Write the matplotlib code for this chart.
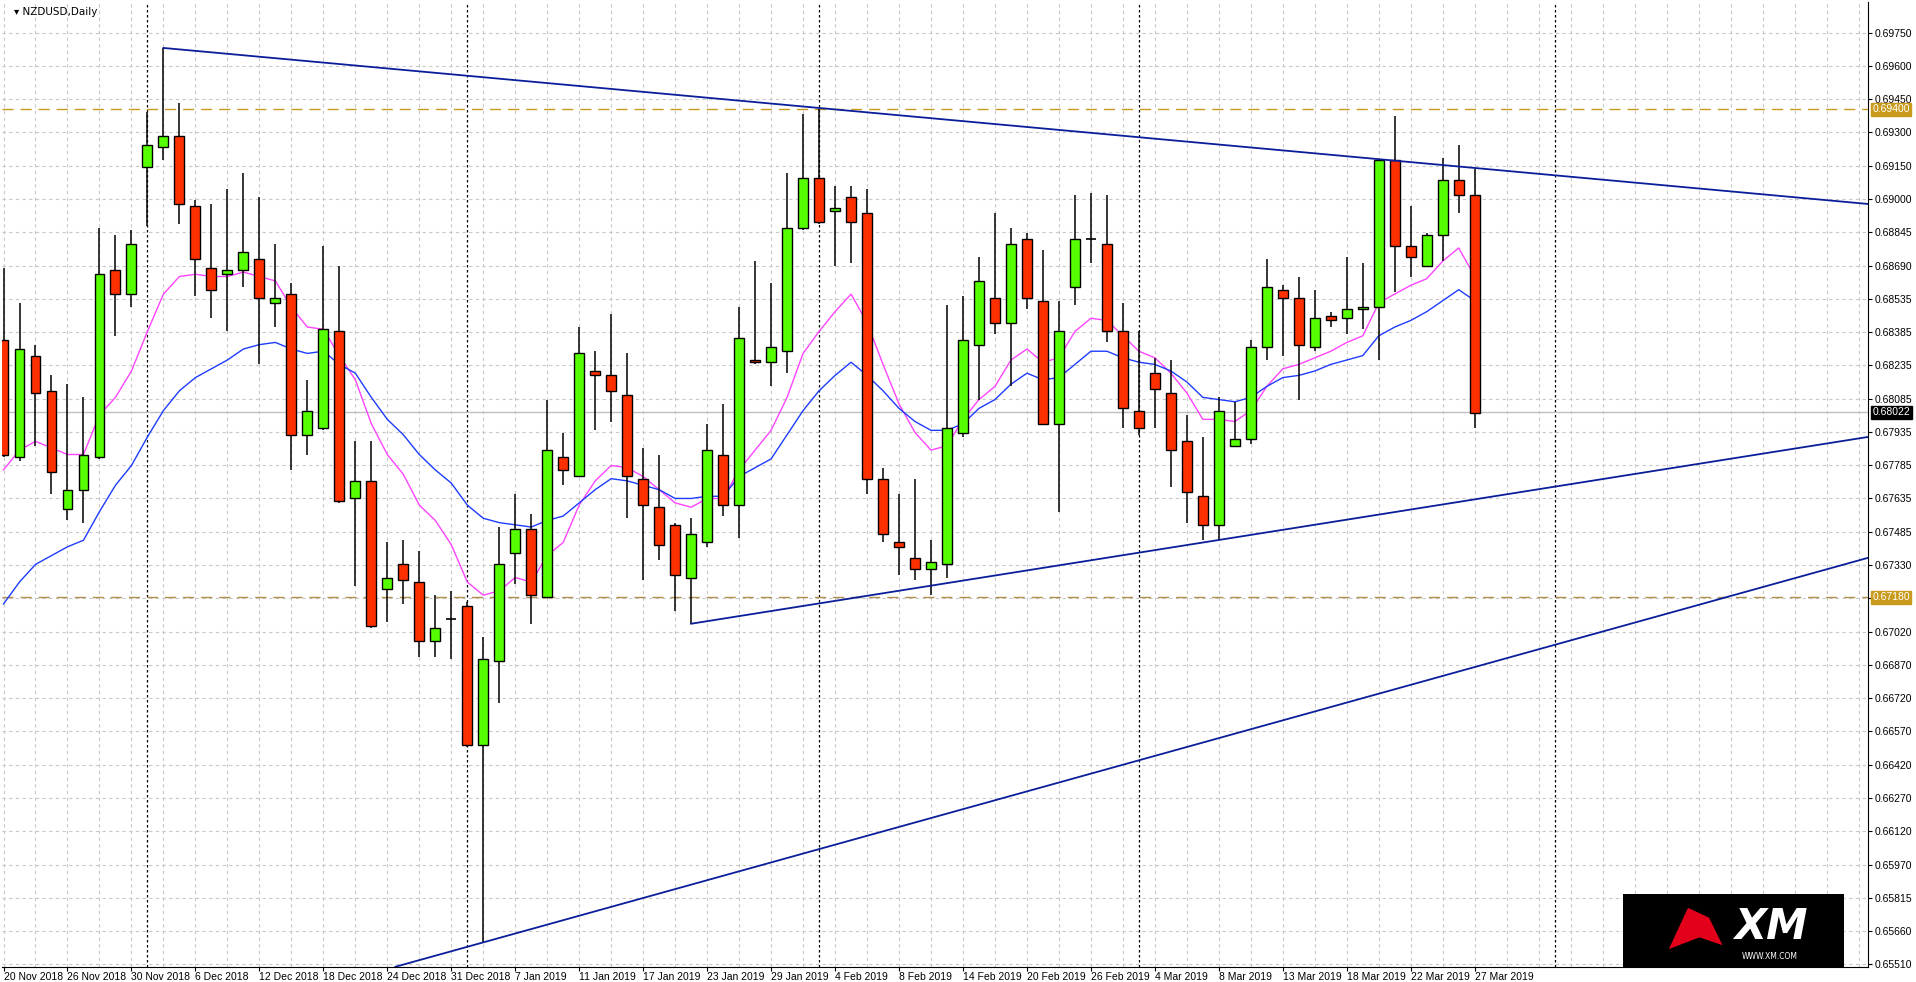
import numpy as np
import matplotlib
matplotlib.use('Agg')
from matplotlib import pyplot as plt
import matplotlib.patches as patches

# ---DATA--- NZDUSD daily, 20 Nov 2018 .. 27 Mar 2019 (bar index 0..92)
opens = [.6835, .6782, .6828, .6812, .6758, .6767, .6782, .6867, .6856, .6914,
         .6923, .6928, .6896, .6868, .6865, .6867, .6872, .6852, .6856, .6792,
         .6795, .6839, .6763, .6771, .6722, .6733, .6725, .6698, .6708, .6714,
         .6651, .6689, .6738, .6749, .6718, .6782, .6773, .6821, .6819, .6810,
         .6772, .6759, .6751, .6727, .6743, .6783, .6760, .6826, .6825, .6830,
         .6886, .6909, .6894, .6900, .6893, .6772, .6743, .6736, .6731, .6733,
         .6793, .6833, .6854, .6843, .6881, .6853, .6797, .6859, .6881, .6879,
         .6839, .6803, .6820, .6811, .6789, .6764, .6751, .6787, .6790, .6832,
         .6858, .6854, .6832, .6846, .6845, .6849, .6850, .6917, .6878, .6869,
         .6883, .6908, .6901]
highs = [.6868, .6852, .6833, .6819, .6815, .6809, .6886, .6883, .6885, .6939,
         .6968, .6943, .6899, .6897, .6904, .6911, .6900, .6879, .6861, .6817,
         .6878, .6869, .6789, .6789, .6743, .6744, .6739, .6719, .6721, .6716,
         .6700, .6750, .6765, .6756, .6808, .6793, .6841, .6830, .6847, .6829,
         .6786, .6783, .6752, .6754, .6797, .6806, .6850, .6871, .6861, .6911,
         .6938, .6940, .6905, .6905, .6904, .6777, .6765, .6772, .6744, .6851,
         .6855, .6873, .6893, .6886, .6884, .6876, .6853, .6901, .6902, .6901,
         .6852, .6839, .6827, .6826, .6801, .6791, .6809, .6807, .6835, .6872,
         .6860, .6864, .6858, .6848, .6873, .6870, .6917, .6937, .6896, .6884,
         .6918, .6924, .6913]
lows = [.6782, .6780, .6787, .6765, .6753, .6752, .6781, .6837, .6850, .6887,
        .6917, .6888, .6855, .6845, .6839, .6859, .6824, .6841, .6776, .6783,
        .6794, .6761, .6723, .6704, .6707, .6715, .6691, .6691, .6690, .6650,
        .6561, .6670, .6724, .6706, .6718, .6769, .6773, .6794, .6798, .6754,
        .6726, .6735, .6712, .6706, .6741, .6755, .6745, .6824, .6814, .6820,
        .6885, .6888, .6869, .6870, .6765, .6743, .6728, .6726, .6719, .6727,
        .6791, .6808, .6838, .6814, .6849, .6797, .6757, .6851, .6870, .6834,
        .6795, .6792, .6795, .6768, .6752, .6744, .6744, .6787, .6788, .6826,
        .6828, .6808, .6830, .6841, .6838, .6840, .6826, .6857, .6864, .6869,
        .6871, .6893, .6795]
closes = [.6783, .6831, .6811, .6775, .6767, .6783, .6865, .6856, .6879, .6924,
          .6928, .6897, .6872, .6858, .6867, .6875, .6854, .6854, .6792, .6803,
          .6840, .6762, .6771, .6705, .6727, .6726, .6698, .6704, .6708, .6651,
          .6690, .6733, .6749, .6719, .6785, .6776, .6829, .6819, .6812, .6773,
          .6760, .6742, .6728, .6747, .6785, .6760, .6836, .6825, .6832, .6886,
          .6909, .6889, .6895, .6889, .6772, .6747, .6741, .6731, .6734, .6795,
          .6835, .6862, .6843, .6879, .6854, .6797, .6839, .6881, .6881, .6839,
          .6804, .6795, .6813, .6785, .6766, .6751, .6803, .6790, .6832, .6859,
          .6854, .6833, .6845, .6844, .6849, .6850, .6917, .6878, .6873, .6883,
          .6908, .6901, .6802]

# moving averages
ma_fast = [.6776, .6785, .6789, .6786, .6783, .6783, .6801, .6809, .6821, .6839,
           .6856, .6864, .6865, .6864, .6864, .6866, .6864, .6862, .6850, .6841,
           .6840, .6828, .6817, .6797, .6783, .6774, .6760, .6753, .6742, .6725,
           .6719, .6721, .6727, .6725, .6737, .6743, .6760, .6771, .6778, .6777,
           .6773, .6767, .6761, .6759, .6763, .6763, .6776, .6785, .6794, .6809,
           .6829, .6839, .6848, .6856, .6843, .6824, .6806, .6793, .6785, .6787,
           .6799, .6808, .6814, .6826, .6831, .6825, .6827, .6839, .6845, .6844,
           .6837, .6830, .6827, .6820, .6811, .6799, .6799, .6798, .6803, .6814,
           .6822, .6824, .6827, .6830, .6834, .6837, .6852, .6856, .6860, .6863,
           .6871, .6877, .6864]
ma_slow = [.6715, .6725, .6733, .6737, .6741, .6744, .6757, .6769, .6778, .6791,
           .6803, .6812, .6818, .6822, .6826, .6831, .6833, .6834, .6831, .6829,
           .6830, .6824, .6820, .6809, .6799, .6792, .6783, .6776, .6770, .6760,
           .6754, .6752, .6751, .6750, .6753, .6755, .6761, .6767, .6772, .6771,
           .6769, .6767, .6763, .6763, .6764, .6764, .6773, .6777, .6781, .6792,
           .6803, .6812, .6819, .6825, .6819, .6812, .6804, .6798, .6794, .6794,
           .6797, .6804, .6808, .6815, .6820, .6817, .6818, .6824, .6830, .6830,
           .6827, .6825, .6824, .6821, .6816, .6809, .6808, .6807, .6809, .6814,
           .6818, .6819, .6821, .6824, .6826, .6828, .6837, .6841, .6844, .6848,
           .6853, .6858, .6853]

date_labels = ['20 Nov 2018', '26 Nov 2018', '30 Nov 2018', '6 Dec 2018', '12 Dec 2018',
               '18 Dec 2018', '24 Dec 2018', '31 Dec 2018', '7 Jan 2019', '11 Jan 2019',
               '17 Jan 2019', '23 Jan 2019', '29 Jan 2019', '4 Feb 2019', '8 Feb 2019',
               '14 Feb 2019', '20 Feb 2019', '26 Feb 2019', '4 Mar 2019', '8 Mar 2019',
               '13 Mar 2019', '18 Mar 2019', '22 Mar 2019', '27 Mar 2019']
price_labels = ['0.69750', '0.69600', '0.69450', '0.69300', '0.69150', '0.69000', '0.68845',
                '0.68690', '0.68535', '0.68385', '0.68235', '0.68085', '0.67935', '0.67785',
                '0.67635', '0.67485', '0.67330', '0.67180', '0.67020', '0.66870', '0.66720',
                '0.66570', '0.66420', '0.66270', '0.66120', '0.65970', '0.65815', '0.65660',
                '0.65510']
month_sep = [9, 29, 51, 71, 97]
level_hi, level_lo, last_price = 0.6940, 0.6718, 0.68022
# trendlines (bar, price)
tl_upper = [(10, 0.6968), (116.6, 0.6897)]
tl_mid = [(43, 0.6706), (116.6, 0.6791)]
tl_low = [(30, 0.6561), (116.6, 0.6736)]

# ---PLOT---
BULL, BEAR = '#55FF00', '#FF3000'
GOLD = '#C89B1E'
FONT = ['Liberation Sans', 'DejaVu Sans']
FS = 7.5
fig = plt.figure(figsize=(19.16, 9.82), dpi=100)
ax = fig.add_axes([0.001, 0.0155, 0.974, 0.982])
ax.set_xlim(-0.1, 116.6)
ax.set_ylim(0.65499, 0.69887)

# grid
grid_y = 0.6975 - np.arange(len(price_labels)) * 0.0424 / 28
for gy in grid_y:
    ax.axhline(gy, color='#C8C8C8', lw=0.8, ls=(0, (3, 3)), zorder=0)
for gx in range(0, 117, 2):
    ax.axvline(gx, color='#C8C8C8', lw=0.8, ls=(0, (3, 3)), zorder=0)
for mx in month_sep:
    ax.axvline(mx, color='black', lw=0.9, ls=(0, (2, 2)), zorder=1)

ax.axhline(level_hi, color=GOLD, lw=1.0, ls=(0, (8, 5)), zorder=1)
ax.axhline(level_lo, color='#B09050', lw=1.0, ls=(0, (8, 5)), zorder=1)
ax.axhline(last_price, color='#C0C0C0', lw=1.0, zorder=1)

x = np.arange(len(opens))
o, h, l, c = map(np.array, (opens, highs, lows, closes))
ax.vlines(x, l, h, color='black', lw=1.1, zorder=3)
bull = c > o
bear = c < o
doji = c == o
w = 0.62
ax.bar(x[bull], (c - o)[bull], bottom=o[bull], width=w, color=BULL,
       edgecolor='black', lw=1.0, zorder=4)
ax.bar(x[bear], (o - c)[bear], bottom=c[bear], width=w, color=BEAR,
       edgecolor='black', lw=1.0, zorder=4)
ax.hlines(o[doji], x[doji] - w / 2, x[doji] + w / 2, color='black', lw=1.2, zorder=4)

ax.plot(x, ma_fast, color='#FF44FF', lw=1.0, zorder=2)
ax.plot(x, ma_slow, color='#1E3CFF', lw=1.0, zorder=2)

tl_col = '#0A1E9A'
ax.plot(*zip(*tl_upper), color=tl_col, lw=1.3, zorder=5)
ax.plot(*zip(*tl_mid), color=tl_col, lw=1.3, zorder=5)
ax.axline(tl_low[0], tl_low[1], color=tl_col, lw=1.3, zorder=5)

# axes styling
for s in ['top', 'left']:
    ax.spines[s].set_visible(False)
ax.spines['right'].set_color('black')
ax.spines['bottom'].set_color('black')
ax.yaxis.tick_right()
ax.set_yticks(grid_y)
ax.set_yticklabels(price_labels, family=FONT)
ax.tick_params(axis='y', length=3, width=0.8, labelsize=FS, pad=2)
ax.set_xticks(np.arange(len(date_labels)) * 4)
ax.set_xticklabels(date_labels, family=FONT)
ax.tick_params(axis='x', length=3, width=0.8, labelsize=FS, pad=1)
for lab in ax.get_xticklabels():
    lab.set_horizontalalignment('left')

# price boxes on the right scale
def price_box(p, txt, bg):
    ax.annotate(txt, xy=(1.0, p), xycoords=('axes fraction', 'data'),
                xytext=(3, 0), textcoords='offset points', va='center', ha='left',
                fontsize=FS, color='white', family=FONT,
                bbox=dict(boxstyle='square,pad=0.15', fc=bg, ec=bg), zorder=10,
                annotation_clip=False)

price_box(level_hi, '0.69400', GOLD)
price_box(level_lo, '0.67180', GOLD)
price_box(last_price, '0.68022', 'black')

fig.text(0.0075, 0.993, '\u25be NZDUSD,Daily', fontsize=FS, va='top', ha='left',
         family=['DejaVu Sans'])

# XM logo box
lx, ly, lw_, lh = 0.847, 0.0155, 0.1155, 0.074
fig.patches.append(patches.Rectangle((lx, ly), lw_, lh, transform=fig.transFigure,
                                     fc='black', ec='none', zorder=20))
fig.patches.append(patches.Polygon([(lx + 0.024, ly + 0.018), (lx + 0.034, ly + 0.06),
                                    (lx + 0.045, ly + 0.05), (lx + 0.052, ly + 0.022),
                                    (lx + 0.040, ly + 0.03)],
                                   closed=True, transform=fig.transFigure,
                                   fc='#E3001B', ec='none', zorder=21))
fig.text(lx + 0.058, ly + 0.040, 'XM', fontsize=30, fontweight='bold', style='italic',
         color='white', ha='left', va='center', zorder=22)
fig.text(lx + 0.062, ly + 0.010, 'WWW.XM.COM', fontsize=5.5, color='white',
         ha='left', va='center', zorder=22)

fig.savefig('out.png', dpi=100)
